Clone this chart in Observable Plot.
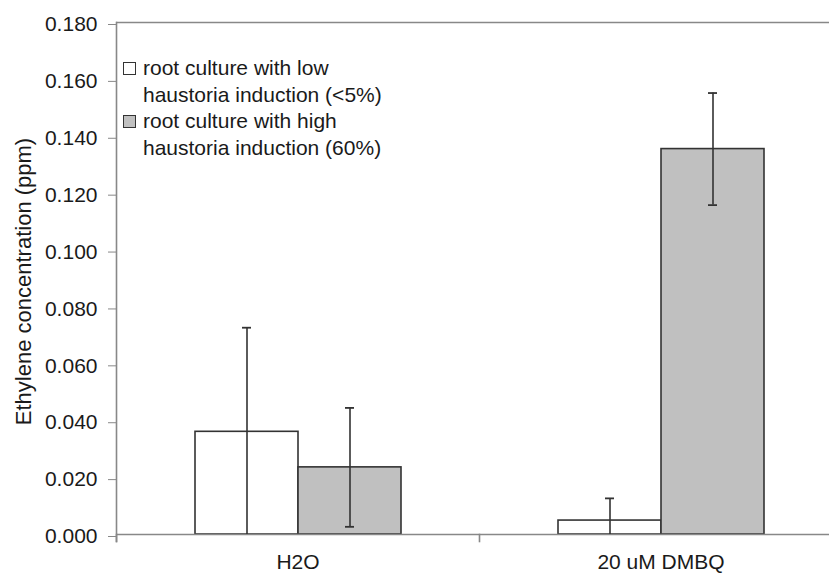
<!DOCTYPE html>
<html>
<head>
<meta charset="utf-8">
<script src="https://cdn.jsdelivr.net/npm/d3@7"></script>
<script src="https://cdn.jsdelivr.net/npm/@observablehq/plot@0.6"></script>
<style>
  body { margin: 0; background: #fff; }
  #wrap { position: relative; width: 829px; height: 574px; overflow: hidden; }
  .legend { position: absolute; left: 123px; top: 55px; font-family: "Liberation Sans", Arial, sans-serif; font-size: 21px; color: #1a1a1a; line-height: 26.5px; }
  .item { position: relative; padding-left: 20px; }
  .sw { position: absolute; left: 0; top: 7px; width: 11px; height: 11px; border: 1.2px solid #333; }
</style>
</head>
<body>
<div id="wrap"></div>
<script>
const categories = ["H2O", "20 uM DMBQ"];
const seriesKeys = ["low", "high"];
const seriesLabels = [
  ["root culture with low", "haustoria induction (<5%)"],
  ["root culture with high", "haustoria induction (60%)"]
];
const lowMeans = [0.0361, 0.0049];
const lowErrors = [0.0366, 0.0078];
const highMeans = [0.0236, 0.1355];
const highErrors = [0.0209, 0.0197];
const yTicks = [0, 0.02, 0.04, 0.06, 0.08, 0.10, 0.12, 0.14, 0.16, 0.18];
const fills = ["#ffffff", "#c0c0c0"];
const yLabel = "Ethylene concentration (ppm)";

const table = [];
categories.forEach((c, i) => {
  table.push({category: c, series: "low", value: lowMeans[i], error: lowErrors[i]});
  table.push({category: c, series: "high", value: highMeans[i], error: highErrors[i]});
});
table.forEach(d => { d.hi = d.value + d.error; d.lo = Math.max(0, d.value - d.error); });

const chart = Plot.plot({
  width: 829,
  height: 574,
  marginLeft: 116,
  marginRight: -13,
  marginTop: 22,
  marginBottom: 40,
  style: {fontFamily: "Liberation Sans, Arial, sans-serif", fontSize: "21px", color: "#1a1a1a", background: "white"},
  fx: {domain: categories, padding: 0, label: null},
  x: {domain: seriesKeys, paddingInner: 0, paddingOuter: 0.754, axis: null},
  y: {domain: [0, 0.18], label: null},
  color: {domain: seriesKeys, range: fills},
  marks: [
    Plot.ruleY([0.18], {stroke: "#888", strokeWidth: 1.5}),
    Plot.barY(table, {fx: "category", x: "series", y: "value", fill: "series", stroke: "#333", strokeWidth: 1.6}),
    Plot.ruleY([0], {stroke: "#888", strokeWidth: 1.6}),
    Plot.frame({anchor: "left", facetAnchor: "left", stroke: "#888", strokeWidth: 1.6, insetBottom: -7}),
    Plot.frame({anchor: "left", stroke: "#888", strokeWidth: 1.6, insetTop: 512, insetBottom: -7}),
    Plot.ruleX(table, {fx: "category", x: "series", y1: "lo", y2: "hi", stroke: "#333", strokeWidth: 1.6}),
    Plot.tickY(table, {fx: "category", x: "series", y: "hi", stroke: "#333", strokeWidth: 1.8, insetLeft: 47, insetRight: 47}),
    Plot.tickY(table.filter(d => d.lo > 0), {fx: "category", x: "series", y: "lo", stroke: "#333", strokeWidth: 1.8, insetLeft: 47, insetRight: 47}),
    Plot.axisY({ticks: yTicks, tickFormat: d3.format(".3f"), tickSize: 8, tickPadding: 11, stroke: "#888", fill: "#1a1a1a", label: null, dy: 2}),
    Plot.axisFx({anchor: "bottom", tickSize: 0, tickPadding: 20, label: null, fill: "#1a1a1a"}),
    Plot.text([yLabel], {frameAnchor: "left", facetAnchor: "left", textAnchor: "middle", rotate: -90, dx: -93, dy: 3, fontSize: 22, fill: "#1a1a1a"})
  ]
});

const wrap = document.getElementById("wrap");
wrap.appendChild(chart);

const legend = document.createElement("div");
legend.className = "legend";
seriesLabels.forEach((lines, i) => {
  const item = document.createElement("div");
  item.className = "item";
  const sw = document.createElement("span");
  sw.className = "sw";
  sw.style.background = fills[i];
  item.appendChild(sw);
  lines.forEach(t => {
    const l = document.createElement("div");
    l.textContent = t;
    item.appendChild(l);
  });
  legend.appendChild(item);
});
wrap.appendChild(legend);
</script>
</body>
</html>
